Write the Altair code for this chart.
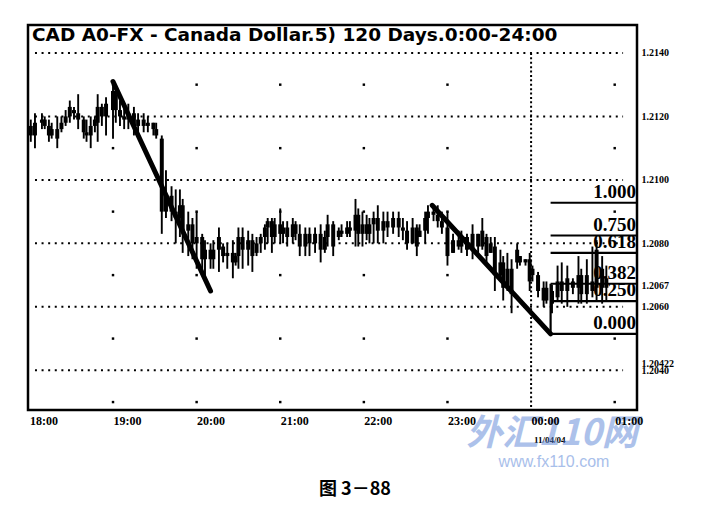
import altair as alt
import pandas as pd

TITLE = "CAD A0-FX - Canada Dollar.5) 120 Days.0:00-24:00"
CAPTION = "图 3－88"
DATE_LABEL = "11/04/04"

# minutes after 18:00 for each bar
minutes = [1, 4, 9, 11, 14, 16, 20, 23, 26, 29, 32, 35, 39, 41, 44, 47, 49, 52, 55, 60, 62, 65, 68, 71, 75, 78, 82, 85, 89, 91, 95, 98, 102,
           105, 108, 110, 114, 117, 120, 124, 126, 130, 132, 136, 139, 142, 146, 148, 150, 153, 157, 160, 163, 166, 169, 171, 174, 176, 180, 182, 185, 189, 191,
           194, 198, 201, 205, 209, 212, 214, 218, 222, 224, 228, 230, 234, 236, 239, 242, 244, 247, 250, 254, 257, 261, 265, 268, 271, 275, 278, 280, 284, 286, 290, 293, 296,
           300, 304, 308, 310, 314, 318, 322, 325, 328, 331, 334, 338, 340, 343, 346, 350, 352, 356, 359, 361, 365, 369, 371, 375, 379, 382, 386, 390, 394, 396, 400, 404, 407, 411, 414]

highs = [1.2119, 1.2121, 1.2121, 1.2120, 1.2119, 1.2118, 1.2120, 1.2120, 1.2122, 1.2125, 1.2123, 1.2127, 1.2120, 1.2119, 1.2120, 1.2120, 1.2127, 1.2124, 1.2126, 1.2131, 1.2128, 1.2125, 1.2124, 1.2124, 1.2123, 1.2121, 1.2121, 1.2120, 1.2118, 1.2118, 1.2114, 1.2103, 1.2098,
         1.2097, 1.2097, 1.2094, 1.2090, 1.2088, 1.2090, 1.2083, 1.2081, 1.2080, 1.2081, 1.2085, 1.2080, 1.2080, 1.2081, 1.2077, 1.2085, 1.2085, 1.2084, 1.2083, 1.2082, 1.2083, 1.2086, 1.2088, 1.2088, 1.2088, 1.2091, 1.2087, 1.2087, 1.2088, 1.2087,
         1.2086, 1.2085, 1.2085, 1.2085, 1.2086, 1.2084, 1.2089, 1.2087, 1.2085, 1.2086, 1.2087, 1.2087, 1.2094, 1.2091, 1.2090, 1.2089, 1.2088, 1.2090, 1.2092, 1.2090, 1.2090, 1.2090, 1.2090, 1.2088, 1.2087, 1.2088, 1.2086, 1.2086, 1.2090, 1.2092, 1.2091, 1.2092, 1.2090,
         1.2090, 1.2083, 1.2084, 1.2084, 1.2083, 1.2086, 1.2083, 1.2088, 1.2083, 1.2082, 1.2082, 1.2078, 1.2076, 1.2077, 1.2075, 1.2080, 1.2076, 1.2075, 1.2077, 1.2073, 1.2071, 1.2068, 1.2068, 1.2067, 1.2073, 1.2074, 1.2073, 1.2069, 1.2076, 1.2072, 1.2075, 1.2079, 1.2081, 1.2076, 1.2073]

lows = [1.2112, 1.2110, 1.2116, 1.2116, 1.2112, 1.2113, 1.2110, 1.2115, 1.2117, 1.2118, 1.2119, 1.2116, 1.2113, 1.2112, 1.2110, 1.2115, 1.2112, 1.2117, 1.2114, 1.2113, 1.2118, 1.2117, 1.2116, 1.2116, 1.2114, 1.2115, 1.2115, 1.2115, 1.2114, 1.2113, 1.2083, 1.2088, 1.2087,
        1.2080, 1.2082, 1.2077, 1.2076, 1.2075, 1.2072, 1.2071, 1.2069, 1.2072, 1.2072, 1.2071, 1.2074, 1.2072, 1.2069, 1.2073, 1.2072, 1.2072, 1.2073, 1.2071, 1.2076, 1.2077, 1.2078, 1.2080, 1.2077, 1.2080, 1.2080, 1.2080, 1.2079, 1.2080, 1.2081,
        1.2076, 1.2076, 1.2076, 1.2077, 1.2074, 1.2077, 1.2079, 1.2076, 1.2081, 1.2082, 1.2082, 1.2082, 1.2079, 1.2079, 1.2079, 1.2081, 1.2080, 1.2080, 1.2080, 1.2080, 1.2082, 1.2083, 1.2082, 1.2081, 1.2078, 1.2080, 1.2076, 1.2082, 1.2080, 1.2083, 1.2087, 1.2085, 1.2083,
        1.2073, 1.2077, 1.2078, 1.2077, 1.2076, 1.2075, 1.2077, 1.2078, 1.2073, 1.2077, 1.2065, 1.2068, 1.2062, 1.2065, 1.2058, 1.2072, 1.2073, 1.2073, 1.2065, 1.2068, 1.2063, 1.2060, 1.2061, 1.2058, 1.2062, 1.2061, 1.2060, 1.2064, 1.2061, 1.2061, 1.2061, 1.2063, 1.2062, 1.2061, 1.2062]

opens = [1.2117, 1.2114, 1.2118, 1.2119, 1.2117, 1.2114, 1.2116, 1.2116, 1.2118, 1.2120, 1.2122, 1.2121, 1.2119, 1.2115, 1.2114, 1.2117, 1.2118, 1.2123, 1.2120, 1.2122, 1.2127, 1.2122, 1.2120, 1.2119, 1.2121, 1.2117, 1.2119, 1.2117, 1.2118, 1.2116, 1.2113, 1.2090, 1.2095,
         1.2090, 1.2088, 1.2092, 1.2084, 1.2086, 1.2080, 1.2082, 1.2075, 1.2078, 1.2075, 1.2078, 1.2079, 1.2076, 1.2077, 1.2074, 1.2076, 1.2082, 1.2078, 1.2081, 1.2077, 1.2080, 1.2082, 1.2085, 1.2087, 1.2082, 1.2086, 1.2083, 1.2085, 1.2082, 1.2086,
         1.2083, 1.2079, 1.2083, 1.2080, 1.2083, 1.2078, 1.2082, 1.2086, 1.2082, 1.2084, 1.2083, 1.2085, 1.2084, 1.2089, 1.2083, 1.2086, 1.2083, 1.2086, 1.2088, 1.2084, 1.2087, 1.2085, 1.2088, 1.2085, 1.2084, 1.2080, 1.2085, 1.2082, 1.2084, 1.2088, 1.2090, 1.2089, 1.2087,
         1.2085, 1.2077, 1.2081, 1.2079, 1.2082, 1.2078, 1.2083, 1.2079, 1.2082, 1.2077, 1.2079, 1.2070, 1.2074, 1.2066, 1.2072, 1.2074, 1.2076, 1.2074, 1.2075, 1.2070, 1.2070, 1.2066, 1.2062, 1.2065, 1.2063, 1.2068, 1.2065, 1.2068, 1.2066, 1.2070, 1.2064, 1.2068, 1.2066, 1.2072, 1.2066]

closes = [1.2114, 1.2118, 1.2119, 1.2117, 1.2114, 1.2116, 1.2113, 1.2118, 1.2120, 1.2123, 1.2121, 1.2119, 1.2115, 1.2114, 1.2117, 1.2119, 1.2123, 1.2120, 1.2124, 1.2128, 1.2122, 1.2120, 1.2119, 1.2121, 1.2117, 1.2119, 1.2117, 1.2118, 1.2116, 1.2114, 1.2090, 1.2095, 1.2090,
          1.2088, 1.2092, 1.2084, 1.2086, 1.2080, 1.2082, 1.2075, 1.2078, 1.2075, 1.2078, 1.2082, 1.2076, 1.2077, 1.2074, 1.2076, 1.2082, 1.2078, 1.2081, 1.2076, 1.2080, 1.2082, 1.2085, 1.2087, 1.2082, 1.2086, 1.2083, 1.2085, 1.2082, 1.2086, 1.2083,
          1.2079, 1.2083, 1.2080, 1.2083, 1.2078, 1.2082, 1.2086, 1.2079, 1.2084, 1.2083, 1.2085, 1.2084, 1.2089, 1.2083, 1.2086, 1.2083, 1.2086, 1.2088, 1.2084, 1.2087, 1.2085, 1.2088, 1.2085, 1.2084, 1.2080, 1.2085, 1.2079, 1.2084, 1.2088, 1.2090, 1.2089, 1.2087, 1.2085,
          1.2076, 1.2081, 1.2079, 1.2082, 1.2078, 1.2083, 1.2079, 1.2084, 1.2076, 1.2080, 1.2070, 1.2074, 1.2066, 1.2072, 1.2064, 1.2078, 1.2074, 1.2075, 1.2068, 1.2072, 1.2065, 1.2062, 1.2066, 1.2061, 1.2068, 1.2065, 1.2069, 1.2066, 1.2070, 1.2064, 1.2070, 1.2065, 1.2078, 1.2066, 1.2069]

grid_levels = [1.2140, 1.2120, 1.2100, 1.2080, 1.2060, 1.2040]
axis_values = [1.2140, 1.2120, 1.2100, 1.2080, 1.2060, 1.2040, 1.20666, 1.20422]
hour_ticks = [0, 60, 120, 180, 240, 300, 360, 420]
dot_hours = [60, 120, 180, 240, 300, 420]
dot_levels = [1.2130, 1.2110, 1.2090, 1.2070, 1.2050, 1.2030]

trend_seg = ["a", "a", "b", "b"]
trend_t = [60, 130, 289, 374]
trend_p = [1.2131, 1.2065, 1.2092, 1.20515]

fib_low = 1.20515
fib_high = 1.20928
fib_ratios = [1.0, 0.75, 0.618, 0.382, 0.25, 0.0]
fib_labels = ["1.000", "0.750", "0.618", "0.382", "0.250", "0.000"]
fib_start = 374
x_min, x_max = -1, 436
y_min, y_max = 1.20275, 1.21488

bars = pd.DataFrame({"t": minutes, "open": opens, "high": highs, "low": lows, "close": closes})
fib = pd.DataFrame({"label": fib_labels,
                    "price": [fib_low + r * (fib_high - fib_low) for r in fib_ratios]})
fib382 = fib_low + 0.382 * (fib_high - fib_low)
dots = pd.DataFrame([{"h": h, "lv": lv} for h in dot_hours for lv in dot_levels])
trend = pd.DataFrame({"seg": trend_seg, "t": trend_t, "p": trend_p})
one = pd.DataFrame({"a": [0]})

xscale = alt.Scale(domain=[x_min, x_max], nice=False, zero=False)
yscale = alt.Scale(domain=[y_min, y_max], nice=False, zero=False)

xaxis = alt.Axis(values=hour_ticks,
                 labelExpr="format((18 + datum.value / 60) % 24, '02d') + ':00'",
                 ticks=False, domain=False, grid=False, labelAlign="left", labelBaseline="top",
                 labelPadding=5, labelFont="Liberation Serif", labelFontWeight="bold",
                 labelFontSize=12, labelColor="black", title=None, labelFlush=False, zindex=1)
yaxis = alt.Axis(orient="right", values=axis_values,
                 labelExpr="(datum.value > 1.2042 && datum.value < 1.2043) ? '1.20422' : format(datum.value, '.4f')",
                 ticks=False, domain=False, grid=False, labelPadding=4, labelFont="Liberation Serif",
                 labelFontWeight="bold", labelFontSize=10, labelOverlap=False, labelColor="black",
                 title=None, labelFlush=False, zindex=1)

base = alt.Chart(bars).encode(x=alt.X("t:Q", scale=xscale, axis=xaxis))
wick = base.mark_rule(color="black", strokeWidth=1.9).encode(
    y=alt.Y("low:Q", scale=yscale, axis=yaxis), y2="high:Q")
body = base.mark_rule(color="black", strokeWidth=4).encode(
    y=alt.Y("open:Q", title=None), y2="close:Q")

grid = alt.Chart(pd.DataFrame({"p": grid_levels})).mark_rule(
    color="black", strokeWidth=2, strokeDash=[2, 4.6]).encode(
    y=alt.Y("p:Q", title=None), x=alt.datum(4), x2=alt.datum(426))

vline = alt.Chart(one).mark_rule(color="black", strokeWidth=2, strokeDash=[2, 2.4]).encode(
    x=alt.datum(360), y=alt.datum(1.2140), y2=alt.datum(y_min))

dot_layer = alt.Chart(dots).mark_square(size=6, color="black", opacity=1).encode(
    x=alt.X("h:Q", title=None), y=alt.Y("lv:Q", title=None))

trend_layer = alt.Chart(trend).mark_line(color="black", strokeWidth=5, strokeCap="round").encode(
    x=alt.X("t:Q", title=None), y=alt.Y("p:Q", title=None), detail="seg:N")

fib_lines = alt.Chart(fib).mark_rule(color="black", strokeWidth=2.2).encode(
    y=alt.Y("price:Q", title=None), x=alt.datum(fib_start), x2=alt.datum(x_max))
fib_vert = alt.Chart(one).mark_rule(color="black", strokeWidth=2.2).encode(
    x=alt.datum(fib_start), y=alt.datum(fib_low), y2=alt.datum(fib382))
fib_text = alt.Chart(fib).mark_text(align="right", baseline="bottom", dx=-1, dy=-1,
                                    font="Liberation Serif", fontWeight="bold", fontSize=19,
                                    color="black").encode(
    x=alt.datum(x_max), y=alt.Y("price:Q", title=None), text="label:N")

title_layer = alt.Chart(pd.DataFrame({"t": [TITLE]})).mark_text(
    align="left", baseline="alphabetic", font="DejaVu Sans", fontSize=18.5, fontWeight="bold",
    color="black").encode(x=alt.value(4), y=alt.value(16), text="t:N")

date_layer = alt.Chart(pd.DataFrame({"t": [DATE_LABEL]})).mark_text(
    align="left", baseline="middle", dx=3, font="Liberation Serif", fontSize=9, fontWeight="bold",
    color="black").encode(x=alt.datum(360), y=alt.value(415), text="t:N")

caption_layer = alt.Chart(pd.DataFrame({"t": [CAPTION]})).mark_text(
    align="center", baseline="middle", font="Noto Sans CJK SC", fontSize=18, fontWeight="bold",
    color="black").encode(x=alt.value(327), y=alt.value(465), text="t:N")

wm1 = alt.Chart(pd.DataFrame({"t": ["外汇110网"]})).mark_text(
    align="center", baseline="middle", font="Noto Sans CJK SC", fontSize=36, fontWeight="bold",
    fontStyle="italic", color="#5b84d6", opacity=0.5).encode(x=alt.value(524), y=alt.value(409), text="t:N")
wm2 = alt.Chart(pd.DataFrame({"t": ["www.fx110.com"]})).mark_text(
    align="center", baseline="middle", font="Liberation Sans", fontSize=16,
    color="#6f95dd", opacity=0.6).encode(x=alt.value(526), y=alt.value(437), text="t:N")

chart = alt.layer(
    wick, body, grid, vline, dot_layer, trend_layer, fib_lines, fib_vert, fib_text,
    title_layer, date_layer, wm1, wm2, caption_layer
).properties(
    width=609, height=385, autosize="none",
    padding={"left": 20, "top": 17, "right": 50, "bottom": 100},
    background="white"
).configure_view(stroke="black", strokeWidth=2.5)

chart.save("out.html", embed_options={"renderer": "svg", "actions": False})
